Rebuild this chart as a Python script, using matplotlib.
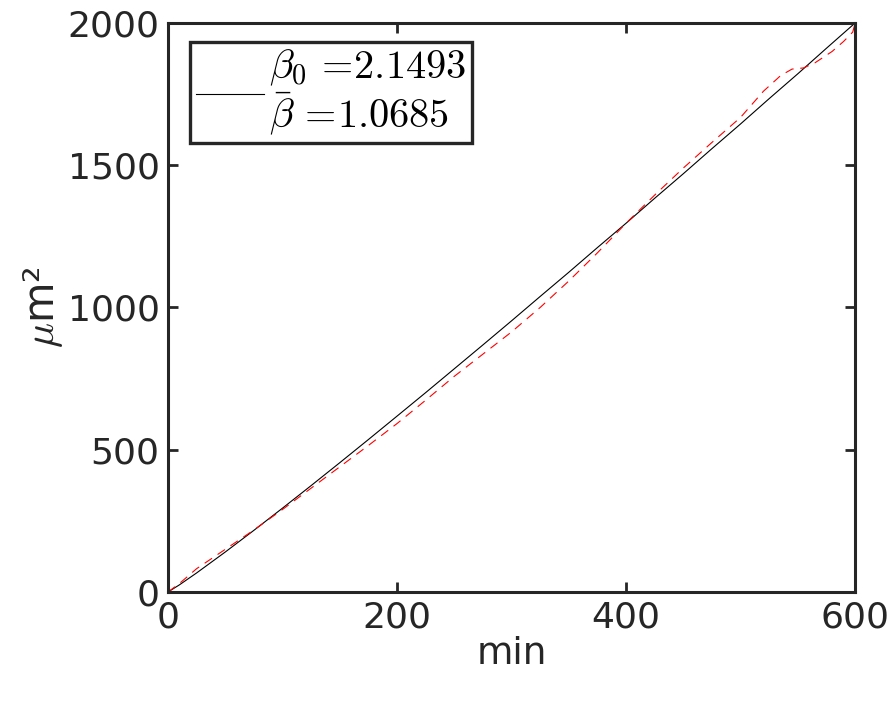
import matplotlib
matplotlib.use("Agg")
import matplotlib.pyplot as plt
from matplotlib.font_manager import FontProperties

# Fit curve (black) and measured data (red dashed), area in um^2 vs time in min
fit_t = [0, 10, 25, 50, 75, 100, 125, 150, 175, 200, 225, 250, 275, 300,
         325, 350, 375, 400, 425, 450, 475, 500, 525, 550, 575, 600]
fit_area = [0, 25.2, 67.0, 140.5, 216.7, 294.7, 374.0, 454.4, 535.8, 618.1,
            700.7, 784.5, 868.4, 953.0, 1038.7, 1123.7, 1210.5, 1296.0,
            1383.7, 1470.0, 1558.2, 1645.0, 1734.0, 1821.3, 1911.0, 1999.7]

data_t = [0, 10, 25, 50, 75, 100, 125, 150, 175, 200, 225, 250, 275, 300,
          325, 350, 375, 400, 425, 450, 475, 500, 520, 535, 545, 555, 565,
          580, 590, 598, 600]
data_area = [0, 30, 82, 150, 218, 290, 365, 440, 515, 592, 674, 758, 836,
             914, 1000, 1093, 1192, 1296, 1395, 1490, 1580, 1668, 1760, 1815,
             1838, 1842, 1860, 1900, 1935, 1968, 1998]

legend_label = r"$\beta_0\, =\!2.1493$" + "\n" + r"$\bar{\beta}\, =\!1.0685$"

fig = plt.figure(figsize=(8.91, 7.03), dpi=100)
ax = fig.add_axes([168 / 891, 111 / 703, 687 / 891, 569 / 703])

ax.plot(fit_t, fit_area, color="black", linewidth=0.8, label=legend_label)
ax.plot(data_t, data_area, color="#ff0000", linewidth=0.8,
        linestyle=(0, (8, 6)))

ax.set_xlim(0, 600)
ax.set_ylim(0, 2000)
ax.set_xticks([0, 200, 400, 600])
ax.set_yticks([0, 500, 1000, 1500, 2000])

edge = "#262626"
for s in ax.spines.values():
    s.set_linewidth(2.2)
    s.set_color(edge)
ax.tick_params(direction="in", length=7, width=2, colors=edge,
               labelsize=26, top=True, right=True, pad=6)
for lab in ax.get_xticklabels() + ax.get_yticklabels():
    lab.set_color(edge)

ax.set_xlabel("min", fontsize=27, color=edge, labelpad=1)
ax.set_ylabel(r"$\mu$m²", fontsize=30, color=edge, math_fontfamily="cm",
              labelpad=2)

leg = ax.legend(loc="upper left", handlelength=1.7, handletextpad=0.1,
                borderpad=0.15, borderaxespad=0, fancybox=False, framealpha=1,
                bbox_to_anchor=(0.032, 0.967),
                prop=FontProperties(size=29, math_fontfamily="cm"))
leg.get_texts()[0].set_linespacing(1.05)
leg.get_frame().set_edgecolor(edge)
leg.get_frame().set_linewidth(2.4)

fig.savefig("out.png", dpi=100)
